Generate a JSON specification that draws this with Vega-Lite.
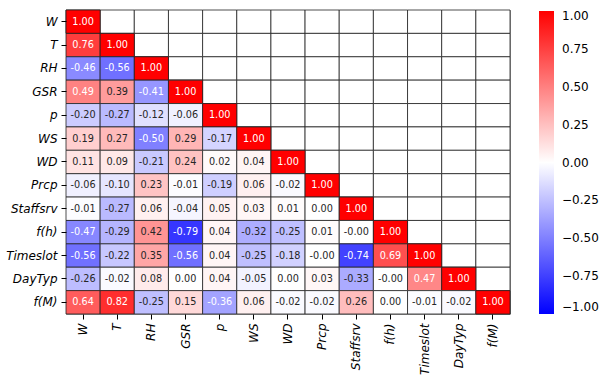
{
  "$schema": "https://vega.github.io/schema/vega-lite/v6.json",
  "width": 444,
  "height": 304,
  "padding": {"left": 5, "top": 9, "right": 5, "bottom": 5},
  "background": "white",
  "config": {
    "font": "DejaVu Sans",
    "view": {"stroke": "#999999", "strokeWidth": 1}
  },
  "data": {
    "values": [
      {"r": "W", "c": "W", "v": 1.0, "t": "1.00"},
      {"r": "T", "c": "W", "v": 0.76, "t": "0.76"},
      {"r": "T", "c": "T", "v": 1.0, "t": "1.00"},
      {"r": "RH", "c": "W", "v": -0.46, "t": "-0.46"},
      {"r": "RH", "c": "T", "v": -0.56, "t": "-0.56"},
      {"r": "RH", "c": "RH", "v": 1.0, "t": "1.00"},
      {"r": "GSR", "c": "W", "v": 0.49, "t": "0.49"},
      {"r": "GSR", "c": "T", "v": 0.39, "t": "0.39"},
      {"r": "GSR", "c": "RH", "v": -0.41, "t": "-0.41"},
      {"r": "GSR", "c": "GSR", "v": 1.0, "t": "1.00"},
      {"r": "p", "c": "W", "v": -0.2, "t": "-0.20"},
      {"r": "p", "c": "T", "v": -0.27, "t": "-0.27"},
      {"r": "p", "c": "RH", "v": -0.12, "t": "-0.12"},
      {"r": "p", "c": "GSR", "v": -0.06, "t": "-0.06"},
      {"r": "p", "c": "p", "v": 1.0, "t": "1.00"},
      {"r": "WS", "c": "W", "v": 0.19, "t": "0.19"},
      {"r": "WS", "c": "T", "v": 0.27, "t": "0.27"},
      {"r": "WS", "c": "RH", "v": -0.5, "t": "-0.50"},
      {"r": "WS", "c": "GSR", "v": 0.29, "t": "0.29"},
      {"r": "WS", "c": "p", "v": -0.17, "t": "-0.17"},
      {"r": "WS", "c": "WS", "v": 1.0, "t": "1.00"},
      {"r": "WD", "c": "W", "v": 0.11, "t": "0.11"},
      {"r": "WD", "c": "T", "v": 0.09, "t": "0.09"},
      {"r": "WD", "c": "RH", "v": -0.21, "t": "-0.21"},
      {"r": "WD", "c": "GSR", "v": 0.24, "t": "0.24"},
      {"r": "WD", "c": "p", "v": 0.02, "t": "0.02"},
      {"r": "WD", "c": "WS", "v": 0.04, "t": "0.04"},
      {"r": "WD", "c": "WD", "v": 1.0, "t": "1.00"},
      {"r": "Prcp", "c": "W", "v": -0.06, "t": "-0.06"},
      {"r": "Prcp", "c": "T", "v": -0.1, "t": "-0.10"},
      {"r": "Prcp", "c": "RH", "v": 0.23, "t": "0.23"},
      {"r": "Prcp", "c": "GSR", "v": -0.01, "t": "-0.01"},
      {"r": "Prcp", "c": "p", "v": -0.19, "t": "-0.19"},
      {"r": "Prcp", "c": "WS", "v": 0.06, "t": "0.06"},
      {"r": "Prcp", "c": "WD", "v": -0.02, "t": "-0.02"},
      {"r": "Prcp", "c": "Prcp", "v": 1.0, "t": "1.00"},
      {"r": "Staffsrv", "c": "W", "v": -0.01, "t": "-0.01"},
      {"r": "Staffsrv", "c": "T", "v": -0.27, "t": "-0.27"},
      {"r": "Staffsrv", "c": "RH", "v": 0.06, "t": "0.06"},
      {"r": "Staffsrv", "c": "GSR", "v": -0.04, "t": "-0.04"},
      {"r": "Staffsrv", "c": "p", "v": 0.05, "t": "0.05"},
      {"r": "Staffsrv", "c": "WS", "v": 0.03, "t": "0.03"},
      {"r": "Staffsrv", "c": "WD", "v": 0.01, "t": "0.01"},
      {"r": "Staffsrv", "c": "Prcp", "v": 0.0, "t": "0.00"},
      {"r": "Staffsrv", "c": "Staffsrv", "v": 1.0, "t": "1.00"},
      {"r": "f(h)", "c": "W", "v": -0.47, "t": "-0.47"},
      {"r": "f(h)", "c": "T", "v": -0.29, "t": "-0.29"},
      {"r": "f(h)", "c": "RH", "v": 0.42, "t": "0.42"},
      {"r": "f(h)", "c": "GSR", "v": -0.79, "t": "-0.79"},
      {"r": "f(h)", "c": "p", "v": 0.04, "t": "0.04"},
      {"r": "f(h)", "c": "WS", "v": -0.32, "t": "-0.32"},
      {"r": "f(h)", "c": "WD", "v": -0.25, "t": "-0.25"},
      {"r": "f(h)", "c": "Prcp", "v": 0.01, "t": "0.01"},
      {"r": "f(h)", "c": "Staffsrv", "v": -0.001, "t": "-0.00"},
      {"r": "f(h)", "c": "f(h)", "v": 1.0, "t": "1.00"},
      {"r": "Timeslot", "c": "W", "v": -0.56, "t": "-0.56"},
      {"r": "Timeslot", "c": "T", "v": -0.22, "t": "-0.22"},
      {"r": "Timeslot", "c": "RH", "v": 0.35, "t": "0.35"},
      {"r": "Timeslot", "c": "GSR", "v": -0.56, "t": "-0.56"},
      {"r": "Timeslot", "c": "p", "v": 0.04, "t": "0.04"},
      {"r": "Timeslot", "c": "WS", "v": -0.25, "t": "-0.25"},
      {"r": "Timeslot", "c": "WD", "v": -0.18, "t": "-0.18"},
      {"r": "Timeslot", "c": "Prcp", "v": -0.001, "t": "-0.00"},
      {"r": "Timeslot", "c": "Staffsrv", "v": -0.74, "t": "-0.74"},
      {"r": "Timeslot", "c": "f(h)", "v": 0.69, "t": "0.69"},
      {"r": "Timeslot", "c": "Timeslot", "v": 1.0, "t": "1.00"},
      {"r": "DayTyp", "c": "W", "v": -0.26, "t": "-0.26"},
      {"r": "DayTyp", "c": "T", "v": -0.02, "t": "-0.02"},
      {"r": "DayTyp", "c": "RH", "v": 0.08, "t": "0.08"},
      {"r": "DayTyp", "c": "GSR", "v": 0.0, "t": "0.00"},
      {"r": "DayTyp", "c": "p", "v": 0.04, "t": "0.04"},
      {"r": "DayTyp", "c": "WS", "v": -0.05, "t": "-0.05"},
      {"r": "DayTyp", "c": "WD", "v": 0.0, "t": "0.00"},
      {"r": "DayTyp", "c": "Prcp", "v": 0.03, "t": "0.03"},
      {"r": "DayTyp", "c": "Staffsrv", "v": -0.33, "t": "-0.33"},
      {"r": "DayTyp", "c": "f(h)", "v": -0.001, "t": "-0.00"},
      {"r": "DayTyp", "c": "Timeslot", "v": 0.47, "t": "0.47"},
      {"r": "DayTyp", "c": "DayTyp", "v": 1.0, "t": "1.00"},
      {"r": "f(M)", "c": "W", "v": 0.64, "t": "0.64"},
      {"r": "f(M)", "c": "T", "v": 0.82, "t": "0.82"},
      {"r": "f(M)", "c": "RH", "v": -0.25, "t": "-0.25"},
      {"r": "f(M)", "c": "GSR", "v": 0.15, "t": "0.15"},
      {"r": "f(M)", "c": "p", "v": -0.36, "t": "-0.36"},
      {"r": "f(M)", "c": "WS", "v": 0.06, "t": "0.06"},
      {"r": "f(M)", "c": "WD", "v": -0.02, "t": "-0.02"},
      {"r": "f(M)", "c": "Prcp", "v": -0.02, "t": "-0.02"},
      {"r": "f(M)", "c": "Staffsrv", "v": 0.26, "t": "0.26"},
      {"r": "f(M)", "c": "f(h)", "v": 0.0, "t": "0.00"},
      {"r": "f(M)", "c": "Timeslot", "v": -0.01, "t": "-0.01"},
      {"r": "f(M)", "c": "DayTyp", "v": -0.02, "t": "-0.02"},
      {"r": "f(M)", "c": "f(M)", "v": 1.0, "t": "1.00"}
    ]
  },
  "layer": [
    {
      "mark": {"type": "rect", "fill": "white", "stroke": "#222222", "strokeWidth": 0.8},
      "encoding": {
        "x": {
          "field": "r", "type": "nominal", "title": null,
          "scale": {"domain": ["W","T","RH","GSR","p","WS","WD","Prcp","Staffsrv","f(h)","Timeslot","DayTyp","f(M)"], "paddingInner": 0, "paddingOuter": 0},
          "axis": {"labelAngle": 270, "labelFontSize": 12, "labelFontStyle": "italic", "labelColor": "black", "domain": false, "ticks": true, "tickColor": "black", "tickSize": 5, "labelPadding": 4}
        },
        "y": {
          "field": "c", "type": "nominal", "title": null,
          "scale": {"domain": ["W","T","RH","GSR","p","WS","WD","Prcp","Staffsrv","f(h)","Timeslot","DayTyp","f(M)"], "paddingInner": 0, "paddingOuter": 0},
          "axis": {"labelFontSize": 12, "labelFontStyle": "italic", "labelColor": "black", "domain": false, "ticks": true, "tickColor": "black", "tickSize": 5, "labelPadding": 4}
        }
      }
    },
    {
      "mark": {"type": "rect", "stroke": "#222222", "strokeWidth": 0.8},
      "encoding": {
        "x": {"field": "c", "type": "nominal", "title": null},
        "y": {"field": "r", "type": "nominal", "title": null},
        "color": {
          "field": "v", "type": "quantitative",
          "scale": {"domain": [-1, 0, 1], "range": ["#0000ff", "#ffffff", "#ff0000"], "interpolate": "rgb"},
          "legend": {
            "orient": "none", "legendX": 473, "legendY": 1, "title": null,
            "gradientLength": 303, "gradientThickness": 15, "gradientStrokeWidth": 0,
            "values": [1, 0.75, 0.5, 0.25, 0, -0.25, -0.5, -0.75, -1],
            "format": ".2f", "labelFontSize": 12, "labelColor": "black", "labelOffset": 8,
            "labelBaseline": "middle", "labelOverlap": false, "padding": 0
          }
        }
      }
    },
    {
      "mark": {"type": "text", "fontSize": 9.7, "baseline": "middle", "align": "center"},
      "encoding": {
        "x": {"field": "c", "type": "nominal", "title": null},
        "y": {"field": "r", "type": "nominal", "title": null},
        "text": {"field": "t", "type": "nominal"},
        "color": {
          "condition": {"test": "datum.v >= 0.46 || datum.v <= -0.355", "value": "white"},
          "value": "#262626"
        }
      }
    }
  ]
}
